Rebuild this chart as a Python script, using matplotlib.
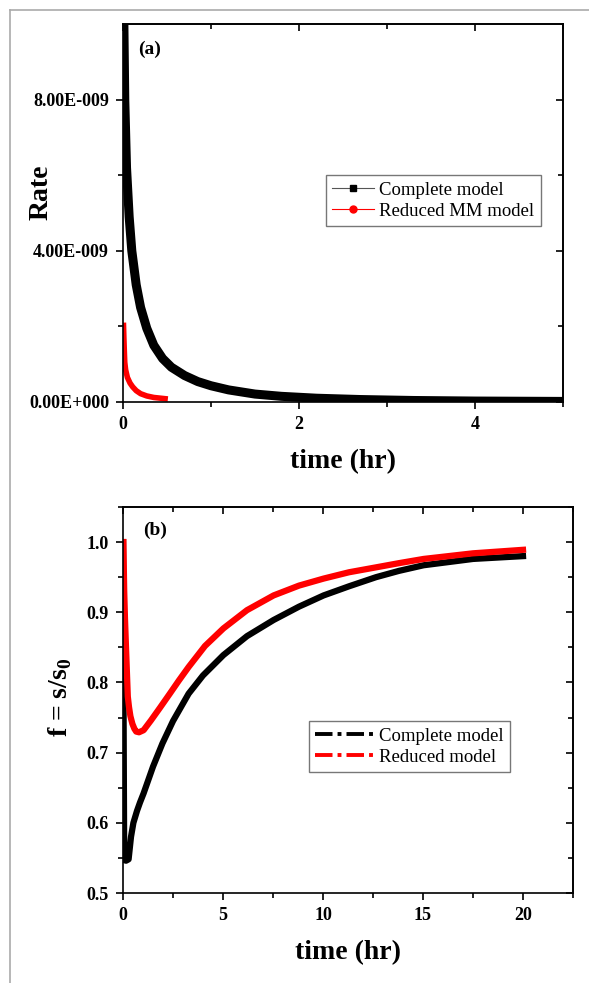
import numpy as np
import matplotlib
matplotlib.use('Agg')
import matplotlib.pyplot as plt
from matplotlib.lines import Line2D

plt.rcParams['font.family'] = 'Liberation Serif'
plt.rcParams['mathtext.fontset'] = 'custom'
plt.rcParams['mathtext.rm'] = 'Liberation Serif:bold'
plt.rcParams['mathtext.bf'] = 'Liberation Serif:bold'

# (a) rate vs time (rate in units of 1e-9)
t_comp = [0.0, 0.02, 0.04, 0.07, 0.1, 0.15, 0.2, 0.27, 0.35, 0.45, 0.55, 0.7,
          0.85, 1.0, 1.2, 1.5, 1.8, 2.2, 2.7, 3.3, 4.0, 5.0]
r_comp = [12.0, 8.0, 6.2, 4.9, 4.0, 3.1, 2.5, 1.95, 1.5, 1.15, 0.92, 0.7,
          0.54, 0.43, 0.32, 0.21, 0.15, 0.1, 0.065, 0.04, 0.025, 0.015]
t_red = [0.005, 0.01, 0.015, 0.02, 0.03, 0.05, 0.08, 0.11, 0.15, 0.2, 0.27,
         0.35, 0.43, 0.51]
r_red = [2.1, 1.7, 1.35, 1.05, 0.85, 0.65, 0.5, 0.4, 0.3, 0.22, 0.16,
         0.12, 0.1, 0.08]
rate_ticks = [0.0, 4e-9, 8e-9]
rate_labels = ['0.00E+000', '4.00E-009', '8.00E-009']

# (b) f = s/s0 vs time
tf_comp = [0.0, 0.03, 0.06, 0.15, 0.28, 0.4, 0.52, 0.7, 0.85, 1.03, 1.5, 1.97,
           2.5, 3.28, 4.0, 5.02, 6.2, 7.53, 8.8, 10.03, 11.3, 12.65, 13.8,
           15.03, 17.5, 20.0]
f_comp = [1.0, 0.75, 0.547, 0.546, 0.548, 0.58, 0.60, 0.617, 0.629, 0.642,
          0.68, 0.713, 0.745, 0.784, 0.81, 0.839, 0.866, 0.889, 0.908, 0.924,
          0.937, 0.95, 0.959, 0.967, 0.976, 0.980]
tf_red = [0.02, 0.06, 0.1, 0.15, 0.24, 0.3, 0.37, 0.47, 0.57, 0.66, 0.8, 1.03,
          1.4, 1.85, 2.34, 2.8, 3.28, 4.1, 5.02, 6.2, 7.53, 8.8, 10.03, 11.3,
          12.65, 13.8, 15.03, 17.5, 20.0]
f_red = [1.0, 0.93, 0.89, 0.85, 0.78, 0.765, 0.752, 0.741, 0.734, 0.730, 0.729,
         0.732, 0.746, 0.764, 0.784, 0.803, 0.822, 0.852, 0.877, 0.903, 0.924,
         0.938, 0.948, 0.957, 0.964, 0.970, 0.976, 0.984, 0.989]

fig = plt.figure(figsize=(5.89, 9.83), dpi=100)

# grey frame round the picture (only top and left visible)
fig.add_artist(Line2D([10/589, 1.0], [1-10/983, 1-10/983], color='#aaaaaa', lw=1.2))
fig.add_artist(Line2D([10/589, 10/589], [1-10/983, 0.0], color='#aaaaaa', lw=1.2))


def style_axes(ax, xmaj, xmin, ymaj, ymin):
    # left/bottom ticks point out, top/right ticks point in
    for s in ax.spines.values():
        s.set_linewidth(1.2)
    ax.set_xticks(xmaj)
    ax.set_xticks(xmin, minor=True)
    ax.set_yticks(ymaj)
    ax.set_yticks(ymin, minor=True)
    ax.tick_params(which='both', direction='out', width=1.2, labelsize=13,
                   top=False, right=False, pad=5)
    ax.tick_params(which='major', length=5)
    ax.tick_params(which='minor', length=3.5)
    sx = ax.secondary_xaxis('top')
    sx.set_xticks(xmaj)
    sx.set_xticks(xmin, minor=True)
    sx.tick_params(which='both', direction='in', width=1.2, labeltop=False)
    sx.tick_params(which='major', length=5)
    sx.tick_params(which='minor', length=3.5)
    sx.spines['top'].set_linewidth(1.2)
    sy = ax.secondary_yaxis('right')
    sy.set_yticks(ymaj)
    sy.set_yticks(ymin, minor=True)
    sy.tick_params(which='both', direction='in', width=1.2, labelright=False)
    sy.tick_params(which='major', length=5)
    sy.tick_params(which='minor', length=3.5)
    sy.spines['right'].set_linewidth(1.2)


# ---- panel (a)
ax1 = fig.add_axes([123/589, 1-402/983, 440/589, 378/983])
ax1.plot(t_comp, np.array(r_comp)*1e-9, color='black', lw=6.5, solid_capstyle='butt')
ax1.plot(t_red, np.array(r_red)*1e-9, color='red', lw=4, solid_capstyle='butt')
ax1.set_xlim(0, 5)
ax1.set_ylim(0, 1e-8)
style_axes(ax1, [0, 2, 4], [1, 3, 5], rate_ticks, [2e-9, 6e-9])
ax1.set_yticklabels(rate_labels)
ax1.set_xlabel('time (hr)', fontsize=20, fontweight='bold', va='center')
ax1.xaxis.set_label_coords(0.5, -0.158)
ax1.set_ylabel('Rate', fontsize=20, fontweight='bold', va='center')
ax1.yaxis.set_label_coords(-0.186, 0.556)
ax1.text(0.035, 0.955, '(a)', transform=ax1.transAxes, fontsize=14,
         fontweight='bold', va='top')
h1 = [Line2D([], [], color='#555555', lw=0.8, marker='s', markersize=5,
             markerfacecolor='black', markeredgecolor='black'),
      Line2D([], [], color='red', lw=0.8, marker='o', markersize=5,
             markerfacecolor='red', markeredgecolor='red')]
leg1 = ax1.legend(h1, ['Complete model', 'Reduced MM model'], loc='upper right',
                  bbox_to_anchor=(0.95, 0.60), borderaxespad=0, fancybox=False,
                  edgecolor='#555555', fontsize=13.5, handlelength=2.2,
                  handletextpad=0.3, labelspacing=0.2, borderpad=0.35)
leg1.get_frame().set_linewidth(1.0)

# ---- panel (b)
ax2 = fig.add_axes([123/589, 1-893/983, 450/589, 386/983])
ax2.plot(tf_comp, f_comp, color='black', lw=4.5)
ax2.plot(tf_red, f_red, color='red', lw=4.5)
ax2.set_xlim(0, 22.5)
ax2.set_ylim(0.5, 1.05)
style_axes(ax2, [0, 5, 10, 15, 20], [2.5, 7.5, 12.5, 17.5, 22.5],
           [0.5, 0.6, 0.7, 0.8, 0.9, 1.0], [0.55, 0.65, 0.75, 0.85, 0.95, 1.05])
ax2.set_xlabel('time (hr)', fontsize=20, fontweight='bold', va='center')
ax2.xaxis.set_label_coords(0.5, -0.155)
ax2.set_ylabel(r'f = s/s$_\mathbf{0}$', fontsize=20, fontweight='bold', va='center')
ax2.yaxis.set_label_coords(-0.14, 0.508)
ax2.text(0.044, 0.961, '(b)', transform=ax2.transAxes, fontsize=14,
         fontweight='bold', va='top')
dash = (0, (4.5, 1.3, 1, 1.3))
h2 = [Line2D([], [], color='black', lw=2.8, linestyle=dash),
      Line2D([], [], color='red', lw=2.8, linestyle=dash)]
leg2 = ax2.legend(h2, ['Complete model', 'Reduced model'], loc='upper right',
                  bbox_to_anchor=(0.86, 0.4456), borderaxespad=0, fancybox=False,
                  edgecolor='#555555', fontsize=13.5, handlelength=3.2,
                  handletextpad=0.2, labelspacing=0.2, borderpad=0.35)
leg2.get_frame().set_linewidth(1.0)

for ax in (ax1, ax2):
    for lab in ax.get_xticklabels() + ax.get_yticklabels():
        lab.set_fontweight('bold')

fig.savefig('out.png', dpi=100)
